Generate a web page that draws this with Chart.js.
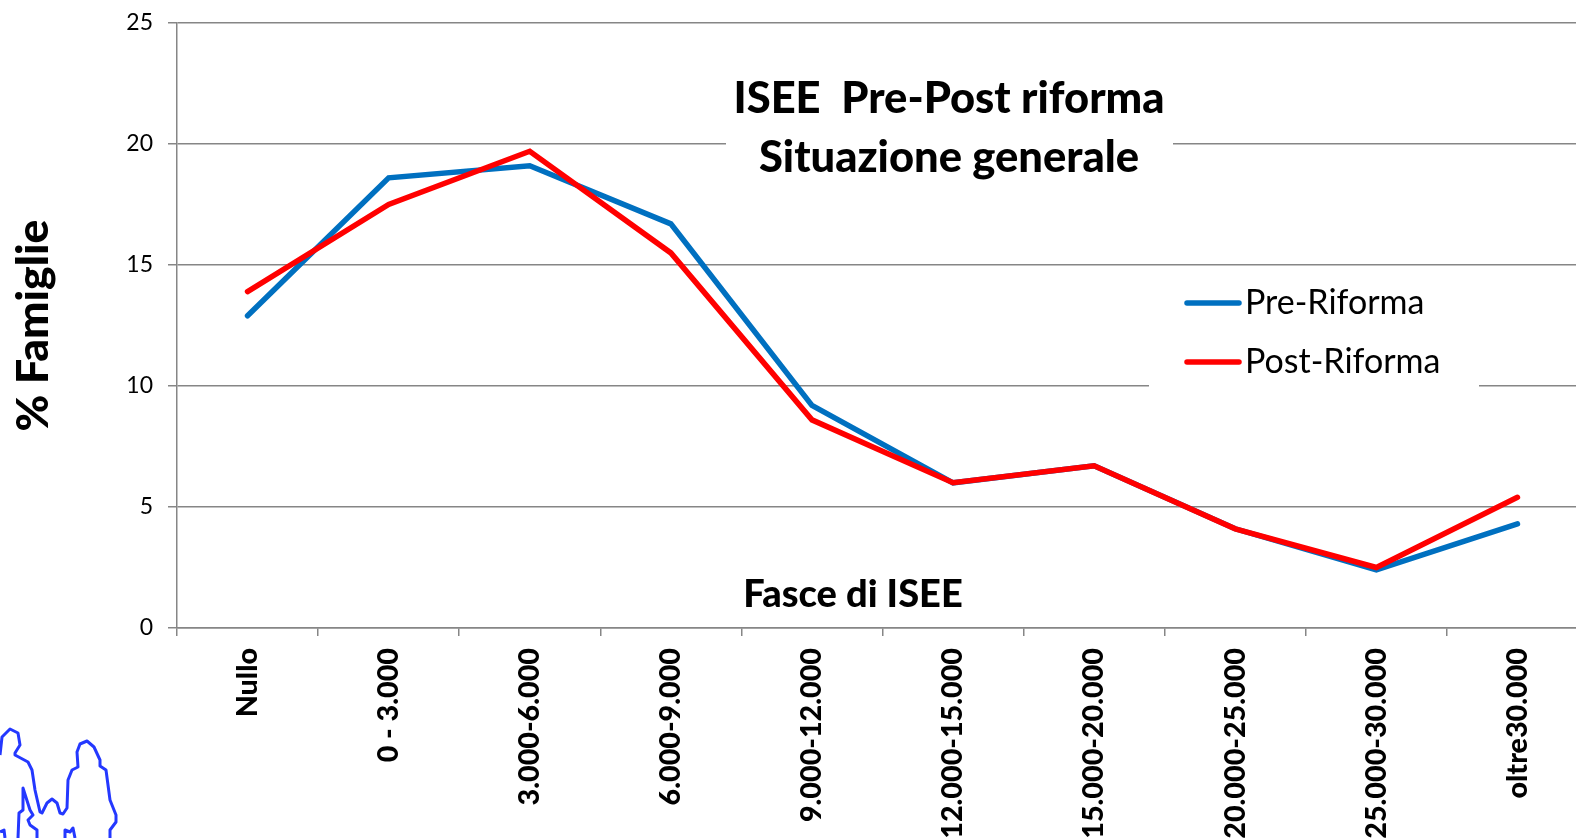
<!DOCTYPE html>
<html><head><meta charset="utf-8">
<style>
html,body{margin:0;padding:0;background:#fff;width:1576px;height:838px;overflow:hidden}
#wrap{position:absolute;left:0;top:0;width:1588px;height:900px}
svg{position:absolute;left:0;top:0;pointer-events:none}
</style>
<script src="https://cdn.jsdelivr.net/npm/chart.js@4"></script>
</head><body>
<div id="wrap"><canvas id="c" width="1588" height="900"></canvas></div>
<svg width="1576" height="838" viewBox="0 0 1576 838" fill="none" stroke="#2438ff" stroke-width="3" stroke-linejoin="round">
<path d="M0 755L2 737L10 729L18 733L20 745L15 753L15 755L28 762L32 770L35 790L40 812L42 813L47 803L52 799L57 803L60 813L63 814L67 808L68 780L72 770L78 767L77 752L80 744L87 741L94 747L100 760L100 766L106 770L110 800L116 815L116 822L110 830L110 838"/>
<path d="M18 838L19 813L23 810L23 788L30 810L33 815L28 820L30 825L37 830L37 838"/>
<path d="M0 832L4 830L5 838M65 838L65 830L70 832L73 828L75 838"/>
</svg>
<script>
const categories = ["Nullo","0 - 3.000","3.000-6.000","6.000-9.000","9.000-12.000","12.000-15.000","15.000-20.000","20.000-25.000","25.000-30.000","oltre30.000"];
const preRiforma = [12.9,18.6,19.1,16.7,9.2,6.0,6.7,4.1,2.4,4.3];
const postRiforma = [13.9,17.5,19.7,15.5,8.6,6.0,6.7,4.1,2.5,5.4];
const yTicks = [0,5,10,15,20,25];
const titleLines = ["ISEE  Pre-Post riforma","Situazione generale"];
const xTitle = "Fasce di ISEE";
const yTitle = "% Famiglie";
const FONT = "Lato, Carlito, sans-serif";

const overlay = {
  id:"overlay",
  beforeDatasetsDraw(chart){
    const ctx = chart.ctx;
    ctx.save();
    ctx.fillStyle = "#fff";
    ctx.fillRect(726,60,447,130);
    ctx.fillRect(1149,270,330,130);
    ctx.restore();
  },
  afterDatasetsDraw(chart){
    const ctx = chart.ctx;
    ctx.save();
    ctx.fillStyle = "#000";
    ctx.textBaseline = "middle";
    ctx.textAlign = "center";
    ctx.font = "900 43.5px "+FONT;
    ctx.fillText(titleLines[0],949,99);
    ctx.fillText(titleLines[1],949,158);
    ctx.font = "900 38px "+FONT;
    ctx.fillText(xTitle,853,595);
    ctx.textAlign = "left";
    ctx.font = "34px "+FONT;
    const ys = [303,362];
    chart.data.datasets.forEach((d,i)=>{
      ctx.strokeStyle = d.borderColor;
      ctx.lineWidth = 5.5;
      ctx.lineCap = "round";
      ctx.beginPath();
      ctx.moveTo(1187,ys[i]);
      ctx.lineTo(1239,ys[i]);
      ctx.stroke();
      ctx.fillStyle = "#000";
      ctx.fillText(d.label,1245,ys[i]);
    });
    ctx.restore();
  }
};

new Chart(document.getElementById("c"),{
  type:"line",
  data:{labels:categories,datasets:[
    {label:"Pre-Riforma",data:preRiforma,borderColor:"#0070C0",backgroundColor:"#0070C0",borderWidth:5.5,pointRadius:0,tension:0,order:2,borderCapStyle:"round"},
    {label:"Post-Riforma",data:postRiforma,borderColor:"#FF0000",backgroundColor:"#FF0000",borderWidth:5.5,pointRadius:0,tension:0,order:1,borderCapStyle:"round"}
  ]},
  options:{
    responsive:false,animation:false,
    layout:{padding:{top:23,left:0,right:0,bottom:0}},
    plugins:{legend:{display:false},title:{display:false},tooltip:{enabled:false}},
    scales:{
      x:{
        offset:true,
        grid:{offset:true,drawOnChartArea:false,drawTicks:true,tickLength:8,color:"#868686",lineWidth:1.5},
        border:{color:"#868686",width:1.5},
        ticks:{autoSkip:false,minRotation:90,maxRotation:90,padding:12,color:"#000",font:{family:FONT,size:28.7,weight:"900"}},
        afterFit(s){s.height=272;s.paddingTop=0;s.paddingBottom=0;s.paddingLeft=0;s.paddingRight=0;}
      },
      y:{
        min:0,max:25,
        afterBuildTicks(s){s.ticks=yTicks.map(v=>({value:v}));},
        grid:{color:"#868686",lineWidth:1.5,tickLength:9,drawTicks:true},
        border:{color:"#868686",width:1.5},
        ticks:{padding:15,color:"#000",font:{family:FONT,size:23}},
        title:{display:true,text:yTitle,color:"#000",font:{family:FONT,size:44.5,weight:"900"},padding:{top:7,bottom:0}},
        afterFit(s){s.width=177;s.paddingTop=0;s.paddingBottom=0;s.paddingLeft=0;s.paddingRight=0;}
      }
    }
  },
  plugins:[overlay]
});
</script>
</body></html>
